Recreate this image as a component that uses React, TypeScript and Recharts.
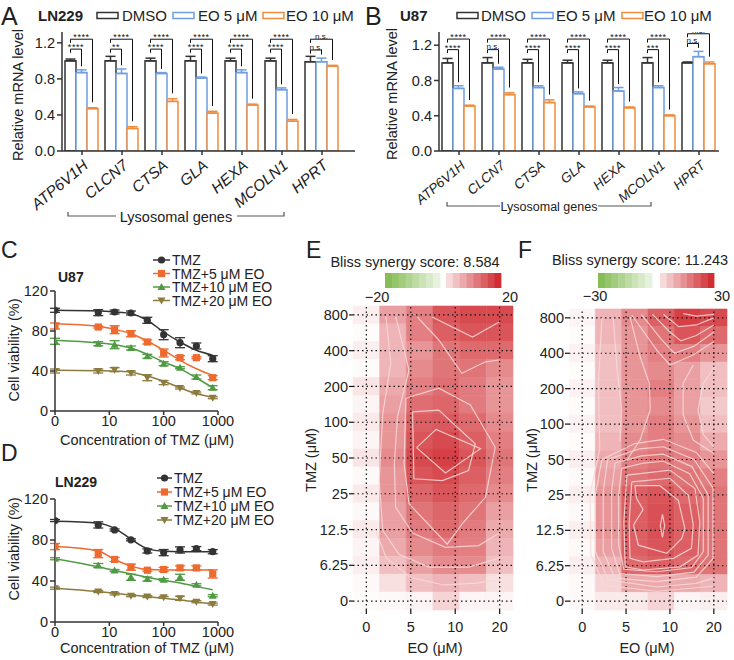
import React from "react";
import {
  BarChart,
  Bar,
  XAxis,
  YAxis,
  ErrorBar,
  ReferenceLine,
  ReferenceArea,
  ComposedChart,
  Line,
  ScatterChart,
  Scatter,
} from "recharts";

const FONT = "'Liberation Sans', Arial, Helvetica, sans-serif";
const INK = "#333333";
const BLUE = "#6f9ee3";
const ORANGE = "#f08c3f";

// ---------- A / B : lysosomal gene qPCR ----------
const genes = ["ATP6V1H", "CLCN7", "CTSA", "GLA", "HEXA", "MCOLN1", "HPRT"];

const ln229Dmso = [1.0, 1.0, 1.0, 1.0, 1.0, 1.0, 0.99];
const ln229DmsoErr = [0.02, 0.05, 0.03, 0.05, 0.03, 0.03, 0.06];
const ln229Eo5 = [0.87, 0.86, 0.86, 0.81, 0.87, 0.68, 0.99];
const ln229Eo5Err = [0.03, 0.05, 0.01, 0.01, 0.03, 0.02, 0.04];
const ln229Eo10 = [0.47, 0.25, 0.55, 0.42, 0.51, 0.33, 0.94];
const ln229Eo10Err = [0.01, 0.02, 0.03, 0.02, 0.01, 0.02, 0.01];
const ln229SigEo10 = ["****", "****", "****", "****", "****", "****", "n.s."];
const ln229SigEo5 = ["****", "**", "****", "****", "****", "****", "n.s."];
const ln229BracketEo10 = [1.24, 1.24, 1.24, 1.24, 1.24, 1.24, 1.24];
const ln229BracketEo5 = [1.13, 1.13, 1.13, 1.13, 1.13, 1.13, 1.12];

const u87Dmso = [1.0, 1.0, 1.0, 1.0, 1.0, 1.0, 1.0];
const u87DmsoErr = [0.05, 0.06, 0.04, 0.03, 0.03, 0.06, 0.01];
const u87Eo5 = [0.71, 0.93, 0.72, 0.65, 0.68, 0.72, 1.07];
const u87Eo5Err = [0.03, 0.02, 0.02, 0.02, 0.04, 0.02, 0.06];
const u87Eo10 = [0.51, 0.64, 0.55, 0.5, 0.49, 0.4, 0.99];
const u87Eo10Err = [0.01, 0.02, 0.03, 0.01, 0.01, 0.01, 0.02];
const u87SigEo10 = ["****", "****", "****", "****", "****", "****", "n.s."];
const u87SigEo5 = ["****", "n.s.", "****", "****", "****", "***", "n.s."];
const u87BracketEo10 = [1.27, 1.27, 1.27, 1.27, 1.27, 1.27, 1.33];
const u87BracketEo5 = [1.15, 1.15, 1.15, 1.15, 1.15, 1.15, 1.22];

// ---------- C / D : viability ----------
const tmzConc = [0, 6.25, 12.5, 25, 50, 100, 200, 400, 800];
const viabilityNames = ["TMZ", "TMZ+5 μM EO", "TMZ+10 μM EO", "TMZ+20 μM EO"];
const viabilityColors = ["#333333", "#ee6a2e", "#4f9a42", "#8c7b3e"];
const viabilityMarkers = ["circle", "square", "up", "down"];

const u87Mean = [
  [100.7, 98.3, 99, 98, 90.7, 76.3, 68.3, 65, 52.3],
  [85, 84, 81.3, 77.3, 69, 58, 53.3, 53.3, 33.3],
  [69.7, 67.3, 66.3, 63, 54.7, 47.3, 43.3, 34, 23.3],
  [40, 40, 41.3, 38, 33.3, 28.3, 23, 18, 13.3],
];
const u87Err = [
  [2, 3, 2, 2, 3, 5, 5, 3, 3],
  [3, 1, 4, 3, 2, 4, 2, 1, 2],
  [3, 2, 4, 2, 2, 2, 1, 2, 2],
  [2, 2, 2, 2, 3, 2, 1, 1, 1],
];
const u87Fit = [
  [100.7, 100, 99, 97.3, 90.7, 79, 69, 60.7, 55.7],
  [87.3, 84.7, 81.7, 77.3, 70, 60.7, 50.7, 42.3, 35.7],
  [70.7, 68, 66.3, 63, 56.7, 49, 42.3, 33, 23.3],
  [40.7, 40.3, 40, 38.7, 35, 29.7, 23.3, 17.3, 14],
];

const ln229Mean = [
  [99, 94.7, 89.8, 80.2, 69.3, 67.7, 70.3, 71.6, 68.6],
  [73.6, 66.7, 61, 53.5, 50.5, 51.2, 52.8, 52.8, 46.9],
  [61.7, 55.1, 50.2, 43.6, 41.9, 41.3, 43.6, 36.3, 25.7],
  [33, 29.7, 27.4, 25.7, 24.8, 24.1, 23.1, 19.8, 17.5],
];
const ln229Err = [
  [1, 3, 1, 1, 2, 3, 3, 2, 2],
  [3, 4, 2, 3, 1, 2, 2, 2, 4],
  [1, 2, 1, 3, 2, 1, 3, 1, 1],
  [1, 1, 1, 1, 1, 1, 2, 1, 1],
];
const ln229Fit = [
  [98.3, 96.4, 91.4, 80.9, 71.6, 69, 68.6, 68.6, 68.6],
  [73.6, 69.3, 61, 54.5, 51.2, 50.8, 50.8, 50.8, 50.8],
  [61.7, 53.8, 50.2, 46.9, 43.6, 40.6, 38, 34.7, 31.4],
  [33, 29.7, 28, 26.4, 24.8, 23.1, 21.5, 19.5, 17.5],
];

// ---------- E / F : Bliss synergy maps ----------
const eoLabels = ["0", "5", "10", "20"];
const tmzLabels = ["0", "6.25", "12.5", "25", "50", "100", "200", "400", "800"];

// rows from TMZ 800 (top) down to 0, six interpolated EO columns
const u87Bliss = [
  [1.6, 9, 12, 16, 17, 17],
  [0.4, 7, 12, 15, 16, 16],
  [1.6, 7, 10, 13, 14, 14],
  [0.4, 7, 11, 13, 13, 11],
  [2.4, 8, 12, 13.6, 12.4, 10],
  [1, 9, 13.6, 14.4, 12.4, 10],
  [2, 10, 15, 15.6, 14, 11],
  [1, 10, 16, 17, 15, 12],
  [2.4, 11, 17, 18, 16, 13],
  [0.6, 10, 16, 17, 15, 12],
  [2, 10, 14.4, 16, 14, 11],
  [0.6, 9, 13, 14.4, 13, 9],
  [2, 9, 12.4, 14, 12.4, 8],
  [1, 8, 11, 12.4, 12, 7],
  [1.6, 6, 9, 11, 11, 6],
  [0.6, 3, 6, 7, 6, 3],
  [0.4, 0.6, 1, 4, 1, 1],
];
const ln229Bliss = [
  [1.5, 10.5, 16.5, 22.5, 27, 25.5],
  [0.6, 10.5, 15, 19.5, 24, 21],
  [1.8, 9, 15, 18, 18, 15],
  [0.6, 9, 15, 16.5, 13.5, 9],
  [1.8, 9, 15, 18, 13.5, 9],
  [0.6, 9, 15, 16.5, 13.5, 7.5],
  [1.8, 9, 15, 18, 15, 9],
  [0.6, 10.5, 16.5, 18, 16.5, 12],
  [2.4, 12, 18, 19.5, 18, 15],
  [0.9, 13.5, 19.5, 21, 19.5, 18],
  [2.4, 15, 22.5, 24, 21, 19.5],
  [0.9, 15, 22.5, 24.6, 22.5, 19.5],
  [2.4, 15, 22.5, 24.6, 22.5, 19.5],
  [0.9, 13.5, 22.5, 24, 22.5, 19.5],
  [2.4, 10.5, 21, 22.5, 21, 19.5],
  [0.9, 6, 12, 12, 12, 10.5],
  [0.9, 3, 3, 6, 1.5, 2.4],
];

type Pt = [number, number];
const u87Contours: Pt[][] = [
  [[1.13, 4.29], [1.57, 4.8], [2.57, 4.26], [1.78, 3.58], [1.13, 4.29]],
  [[1.04, 5.29], [1.63, 5.34], [2.45, 4.4], [2.3, 3.65], [1.71, 3.37], [1.07, 3.42], [1.04, 5.29]],
  [[0.89, 5.67], [1.63, 5.95], [2.34, 5.48], [2.9, 4.3], [2.68, 2.9], [2.15, 2.15], [1.82, 1.59], [0.96, 2.72], [0.85, 3.84], [0.89, 5.67]],
  [[0.66, 7.96], [0.96, 6.46], [0.7, 5.15], [0.63, 3.84], [0.66, 2.62], [1.04, 1.9], [1.78, 1.5], [2.53, 1.55], [2.99, 1.9]],
  [[0.44, 7.96], [0.55, 6.65], [0.37, 5.24], [0.29, 3.37], [0.37, 1.97], [0.74, 1.3], [1.41, 0.95], [2.3, 0.95], [2.99, 1.2]],
  [[0.2, 2.0], [0.45, 1.2], [1.0, 0.66], [1.74, 0.45], [2.48, 0.5], [2.99, 0.6]],
  [[1.48, 7.94], [2.39, 7.38], [2.99, 7.8]],
  [[1.15, 7.94], [1.63, 7.3], [2.15, 6.37], [2.68, 6.69], [2.99, 6.74]],
];
const ln229Contours: Pt[][] = [
  [[1.83, 2.45], [1.88, 2.13], [1.83, 1.8], [1.78, 2.13], [1.83, 2.45]],
  [[1.2, 3.26], [1.77, 3.26], [2.19, 2.85], [2.34, 2.05], [2.27, 1.77], [1.93, 1.35], [1.28, 1.58], [1.17, 2.15], [1.39, 2.59], [1.24, 2.9], [1.2, 3.26]],
  [[1.13, 3.37], [2.0, 3.47], [2.42, 2.99], [2.53, 2.15], [2.49, 1.49], [2.08, 1.21], [1.39, 1.11], [1.09, 1.21], [1.07, 2.21], [1.13, 3.37]],
  [[1.02, 3.56], [2.0, 3.7], [2.57, 3.18], [2.68, 2.24], [2.64, 1.3], [2.23, 0.97], [1.39, 0.88], [0.98, 0.97], [0.95, 2.24], [1.02, 3.56]],
  [[0.9, 3.75], [1.4, 3.9], [1.85, 3.95], [2.45, 3.6], [2.76, 2.9], [2.76, 1.4], [2.5, 0.95], [1.7, 0.83], [0.95, 0.9], [0.83, 1.6], [0.83, 3.0], [0.9, 3.75]],
  [[0.75, 3.9], [1.35, 4.1], [1.85, 4.15], [2.5, 3.8], [2.87, 3.0], [2.87, 1.3], [2.55, 0.82], [1.7, 0.69], [0.85, 0.78], [0.67, 1.5], [0.67, 3.1], [0.75, 3.9]],
  [[0.58, 4.0], [1.3, 4.3], [1.85, 4.36], [2.55, 4.0], [2.98, 3.2], [2.98, 1.2], [2.6, 0.68], [1.7, 0.55], [0.75, 0.65], [0.48, 1.4], [0.48, 3.1], [0.58, 4.0]],
  [[3.0, 3.6], [2.6, 4.2], [1.85, 4.57], [1.2, 4.45], [0.45, 4.0], [0.3, 3.0], [0.3, 1.4], [0.6, 0.6], [1.7, 0.4], [2.6, 0.5], [3.0, 0.65]],
  [[0.45, 8.0], [0.37, 6.15], [0.4, 4.3], [0.18, 3.0], [0.2, 1.3], [0.5, 0.45], [1.7, 0.28], [3.0, 0.42]],
  [[0.71, 7.99], [0.79, 6.62], [0.9, 5.4], [0.86, 4.5]],
  [[1.09, 8.03], [1.32, 6.9], [1.53, 6.15], [1.55, 5.4], [1.32, 4.55], [1.02, 3.98]],
  [[3.02, 6.62], [2.76, 6.15], [2.64, 5.4], [2.76, 4.71], [3.02, 4.33]],
  [[2.53, 6.67], [2.3, 6.15], [2.3, 5.27], [2.53, 4.55], [3.0, 4.17]],
  [[1.13, 8.08], [1.7, 7.09], [2.0, 6.67], [2.53, 6.95], [3.0, 7.33]],
  [[1.35, 8.1], [1.8, 7.4], [2.1, 7.0], [2.55, 7.2], [3.0, 7.6]],
  [[1.6, 8.1], [2.0, 7.6], [2.25, 7.35], [2.6, 7.5], [3.0, 7.8]],
  [[1.85, 8.1], [2.2, 7.75], [2.6, 7.8], [3.0, 8.0]],
  [[2.3, 8.12], [2.6, 8.05], [3.0, 8.1]],
];

// ---------- helpers ----------
function mix(a: number[], b: number[], t: number) {
  const k = Math.max(0, Math.min(1, t));
  const c = a.map((v, i) => Math.round(v + (b[i] - v) * k));
  return `rgb(${c[0]},${c[1]},${c[2]})`;
}
const WHITE = [255, 255, 255];
const RED = [208, 42, 48];
const GREEN = [118, 180, 64];

function GeneTick(props: any) {
  const { x, y, payload, fs } = props;
  const ax = x + 7;
  const ay = y + 10;
  return (
    <text
      x={ax}
      y={ay}
      transform={`rotate(-40 ${ax} ${ay})`}
      textAnchor="end"
      fontSize={fs}
      fontStyle="italic"
      fontFamily={FONT}
      fill="#222"
    >
      {payload.value}
    </text>
  );
}

type GeneProps = {
  dmso: number[];
  dmsoErr: number[];
  eo5: number[];
  eo5Err: number[];
  eo10: number[];
  eo10Err: number[];
  sigEo10: string[];
  sigEo5: string[];
  hEo10: number[];
  hEo5: number[];
  yMax: number;
  width: number;
  yAxisWidth: number;
  marginRight: number;
  padRight: number;
  tickFont: number;
};

// bar outline plus, for the treated bars, the significance bracket back to the DMSO bar
function makeBarShape(color: string, key: "dmso" | "eo5" | "eo10", p: GeneProps) {
  return (props: any) => {
    const { x, y, width, height, index, payload } = props;
    const value = payload[key];
    const rect = <rect x={x} y={y} width={width} height={height} fill="#fff" stroke={color} strokeWidth={1.5} />;
    if (key === "dmso" || !value) return rect;
    const base = y + height;
    const ppu = height / value; // pixels per unit of the value axis
    const py = (v: number) => base - v * ppu;
    const steps = key === "eo10" ? 2 : 1;
    const xd = x + width / 2 - steps * width;
    const xc = x + width / 2;
    const h = key === "eo10" ? p.hEo10[index] : p.hEo5[index];
    const err = key === "eo10" ? p.eo10Err[index] : p.eo5Err[index];
    const gap = key === "eo10" ? 0.06 : 0.04;
    const sig = key === "eo10" ? p.sigEo10[index] : p.sigEo5[index];
    const stars = sig.startsWith("*");
    return (
      <g>
        {rect}
        <path
          d={`M${xd},${py(h - 0.04)} V${py(h)} H${xc} V${py(value + err + gap)}`}
          fill="none"
          stroke="#111"
          strokeWidth={1}
        />
        <text
          x={(xd + xc) / 2}
          y={stars ? py(h) + 1 : py(h) - 0.5}
          textAnchor="middle"
          fontSize={stars ? 9 : 8}
          letterSpacing={stars ? 0.6 : 0}
          fontFamily={FONT}
          fill="#111"
        >
          {sig}
        </text>
      </g>
    );
  };
}

function GenePanel(p: GeneProps) {
  const rows = genes.map((gene, i) => ({
    gene,
    dmso: p.dmso[i],
    eo5: p.eo5[i],
    eo10: p.eo10[i],
    dmsoErr: [0, p.dmsoErr[i]],
    eo5Err: [0, p.eo5Err[i]],
    eo10Err: [0, p.eo10Err[i]],
  }));
  const axisStyle = { stroke: INK, strokeWidth: 1.5 };
  return (
    <BarChart
      width={p.width}
      height={215}
      data={rows}
      margin={{ top: 32, right: p.marginRight, left: 0, bottom: 0 }}
      barCategoryGap={3}
      barGap={0}
    >
      <XAxis
        dataKey="gene"
        height={64}
        interval={0}
        tickSize={4}
        tickLine={axisStyle}
        axisLine={axisStyle}
        padding={{ left: 0, right: p.padRight }}
        tick={<GeneTick fs={p.tickFont} />}
      />
      <YAxis
        domain={[0, p.yMax]}
        ticks={[0, 0.2, 0.4, 0.6, 0.8, 1.0, 1.2]}
        tickFormatter={(v: number) => v.toFixed(1)}
        width={p.yAxisWidth}
        tickSize={5}
        tickLine={axisStyle}
        axisLine={axisStyle}
        allowDataOverflow
        tick={{ fill: "#222", fontSize: 14.5, fontFamily: FONT }}
      />
      <Bar dataKey="dmso" shape={makeBarShape(INK, "dmso", p)} isAnimationActive={false}>
        <ErrorBar dataKey="dmsoErr" width={5} stroke={INK} strokeWidth={1.5} />
      </Bar>
      <Bar dataKey="eo5" shape={makeBarShape(BLUE, "eo5", p)} isAnimationActive={false}>
        <ErrorBar dataKey="eo5Err" width={5} stroke={BLUE} strokeWidth={1.5} />
      </Bar>
      <Bar dataKey="eo10" shape={makeBarShape(ORANGE, "eo10", p)} isAnimationActive={false}>
        <ErrorBar dataKey="eo10Err" width={5} stroke={ORANGE} strokeWidth={1.5} />
      </Bar>
    </BarChart>
  );
}

function Marker({ kind, cx, cy, color }: { kind: string; cx: number; cy: number; color: string }) {
  if (kind === "circle") return <circle cx={cx} cy={cy} r={3.6} fill={color} />;
  if (kind === "square") return <rect x={cx - 3.6} y={cy - 3.6} width={7.2} height={7.2} fill={color} />;
  if (kind === "up")
    return <polygon points={`${cx},${cy - 4} ${cx + 4},${cy + 3} ${cx - 4},${cy + 3}`} fill={color} />;
  return <polygon points={`${cx},${cy + 4} ${cx + 4},${cy - 3} ${cx - 4},${cy - 3}`} fill={color} />;
}

function ViabilityPanel({ mean, err, fit, height, top }: { mean: number[][]; err: number[][]; fit: number[][]; height: number; top: number }) {
  const rows = tmzConc.map((c, i) => {
    const r: Record<string, number> = { x: c === 0 ? 1 : c };
    mean.forEach((s, k) => {
      r[`m${k}`] = s[i];
      r[`e${k}`] = err[k][i];
      r[`f${k}`] = fit[k][i];
    });
    return r;
  });
  const axisStyle = { stroke: INK, strokeWidth: 1.5 };
  const tick = { fill: "#222", fontSize: 14.5, fontFamily: FONT };
  return (
    <div style={{ position: "absolute", left: 0, top }}>
      <ComposedChart width={250} height={height} data={rows} margin={{ top: 11, right: 32, left: 10, bottom: 0 }}>
        <XAxis
          dataKey="x"
          type="number"
          scale="log"
          domain={[1, 1000]}
          ticks={[1, 10, 100, 1000]}
          allowDataOverflow
          tickFormatter={(v: number) => (v === 1 ? "0" : String(v))}
          height={29}
          tickSize={4}
          tickMargin={1}
          tickLine={axisStyle}
          axisLine={axisStyle}
          tick={tick}
        />
        <YAxis
          domain={[0, 120]}
          ticks={[0, 20, 40, 60, 80, 100, 120]}
          width={45}
          tickSize={5}
          tickLine={axisStyle}
          axisLine={axisStyle}
          tick={tick}
        />
        {mean.map((_, k) => (
          <Line
            key={`f${k}`}
            dataKey={`f${k}`}
            type="monotone"
            stroke={viabilityColors[k]}
            strokeWidth={1.5}
            dot={false}
            isAnimationActive={false}
          />
        ))}
        {mean.map((_, k) => (
          <Line
            key={`m${k}`}
            dataKey={`m${k}`}
            stroke="none"
            isAnimationActive={false}
            dot={(d: any) => (
              <Marker key={`d${k}-${d.index}`} kind={viabilityMarkers[k]} cx={d.cx} cy={d.cy} color={viabilityColors[k]} />
            )}
          >
            <ErrorBar dataKey={`e${k}`} width={5} stroke={viabilityColors[k]} strokeWidth={1.3} direction="y" />
          </Line>
        ))}
      </ComposedChart>
    </div>
  );
}

function SynergyPanel({
  left,
  top,
  width,
  height,
  yAxisWidth,
  marginRight,
  scores,
  max,
  contours,
}: {
  left: number;
  top: number;
  width: number;
  height: number;
  yAxisWidth: number;
  marginRight: number;
  scores: number[][];
  max: number;
  contours: Pt[][];
}) {
  const cells: { x1: number; x2: number; y1: number; y2: number; fill: string }[] = [];
  scores.forEach((row, r) => {
    const yc = 8 - r * 0.5;
    row.forEach((v, c) => {
      const xc = c * 0.6;
      cells.push({ x1: xc - 0.3, x2: xc + 0.3, y1: yc - 0.25, y2: yc + 0.25, fill: mix(WHITE, RED, v / max) });
    });
  });
  const tick = { fill: "#222", fontSize: 14.5, fontFamily: FONT };
  return (
    <div style={{ position: "absolute", left, top }}>
      <ScatterChart width={width} height={height} margin={{ top: 10, right: marginRight, left: 0, bottom: 0 }}>
        <XAxis
          dataKey="x"
          type="number"
          domain={[-0.3, 3.3]}
          ticks={[0, 1, 2, 3]}
          tickFormatter={(v: number) => eoLabels[v]}
          allowDataOverflow
          height={30}
          axisLine={false}
          tickSize={4}
          tickMargin={8}
          tickLine={{ stroke: "#111", strokeWidth: 1.2 }}
          tick={tick}
        />
        <YAxis
          dataKey="y"
          type="number"
          domain={[-0.25, 8.25]}
          ticks={[0, 1, 2, 3, 4, 5, 6, 7, 8]}
          tickFormatter={(v: number) => tmzLabels[v]}
          allowDataOverflow
          width={yAxisWidth}
          axisLine={false}
          tickSize={4}
          tickMargin={1}
          tickLine={{ stroke: "#111", strokeWidth: 1.2 }}
          tick={tick}
        />
        {cells.map((c, k) => (
          <ReferenceArea
            key={`c${k}`}
            x1={c.x1}
            x2={c.x2}
            y1={c.y1}
            y2={c.y2}
            fill={c.fill}
            fillOpacity={1}
            stroke={c.fill}
            strokeWidth={0.6}
            ifOverflow="visible"
          />
        ))}
        {[0, 1, 2, 3].map((v) => (
          <ReferenceLine key={`vx${v}`} x={v} stroke="#111" strokeWidth={1.2} strokeDasharray="1.5 3" />
        ))}
        {[0, 1, 2, 3, 4, 5, 6, 7, 8].map((v) => (
          <ReferenceLine key={`hy${v}`} y={v} stroke="#111" strokeWidth={1.2} strokeDasharray="1.5 3" />
        ))}
        {contours.map((pts, k) => (
          <Scatter
            key={`ct${k}`}
            data={pts.map(([x, y]) => ({ x, y }))}
            line={{ stroke: "#f7d9d9", strokeWidth: 1.2, strokeOpacity: 0.85 }}
            lineType="joint"
            shape={() => <g />}
            isAnimationActive={false}
          />
        ))}
      </ScatterChart>
    </div>
  );
}

function Txt({ x, y, size = 14.5, bold, anchor = "start", children, rotate, italic, fill = "#222" }: any) {
  return (
    <text
      x={x}
      y={y}
      fontSize={size}
      fontWeight={bold ? "bold" : "normal"}
      fontStyle={italic ? "italic" : "normal"}
      textAnchor={anchor}
      fontFamily={FONT}
      fill={fill}
      transform={rotate ? `rotate(${rotate} ${x} ${y})` : undefined}
    >
      {children}
    </text>
  );
}

function ColorBar({ x0, x1, x2, x3, y }: { x0: number; x1: number; x2: number; x3: number; y: number }) {
  const n = 8;
  const gw = (x1 - x0) / n;
  const rw = (x3 - x2) / n;
  return (
    <g>
      {Array.from({ length: n }, (_, i) => (
        <rect key={`g${i}`} x={x0 + i * gw} y={y} width={gw + 0.4} height={15} fill={mix(GREEN, WHITE, 0.12 + (i / (n - 1)) * 0.7)} />
      ))}
      {Array.from({ length: n }, (_, i) => (
        <rect key={`r${i}`} x={x2 + i * rw} y={y} width={rw + 0.4} height={15} fill={mix(WHITE, RED, 0.18 + (i / (n - 1)) * 0.8)} />
      ))}
    </g>
  );
}

function BoxKey({ x, y, color }: { x: number; y: number; color: string }) {
  return <rect x={x} y={y} width={21} height={6} fill="#fff" stroke={color} strokeWidth={1.5} />;
}

function LineKey({ x, y, k, w }: { x: number; y: number; k: number; w: number }) {
  return (
    <g>
      <line x1={x} y1={y} x2={x + w} y2={y} stroke={viabilityColors[k]} strokeWidth={1.5} />
      <Marker kind={viabilityMarkers[k]} cx={x + w / 2} cy={y} color={viabilityColors[k]} />
    </g>
  );
}

function Overlay() {
  const cRows = [260, 273.5, 287, 300.5];
  const dRows = [478, 492, 506, 520];
  return (
    <svg width={734} height={660} style={{ position: "absolute", left: 0, top: 0, pointerEvents: "none" }}>
      {/* panel letters */}
      <Txt x={1} y={25} size={25}>A</Txt>
      <Txt x={365} y={25} size={25}>B</Txt>
      <Txt x={1} y={258} size={23}>C</Txt>
      <Txt x={1} y={461} size={23}>D</Txt>
      <Txt x={306} y={258} size={23}>E</Txt>
      <Txt x={518} y={258} size={23}>F</Txt>

      {/* A legend */}
      <Txt x={38} y={21} size={15} bold>LN229</Txt>
      <BoxKey x={97} y={12.5} color={INK} />
      <Txt x={122} y={21} size={15}>DMSO</Txt>
      <BoxKey x={173} y={12.5} color={BLUE} />
      <Txt x={198} y={21} size={15}>EO 5 μM</Txt>
      <BoxKey x={263} y={12.5} color={ORANGE} />
      <Txt x={286} y={21} size={15}>EO 10 μM</Txt>

      {/* B legend */}
      <Txt x={400} y={21} size={15} bold>U87</Txt>
      <BoxKey x={457} y={12.5} color={INK} />
      <Txt x={481} y={21} size={15}>DMSO</Txt>
      <BoxKey x={532} y={12.5} color={BLUE} />
      <Txt x={556} y={21} size={15}>EO 5 μM</Txt>
      <BoxKey x={622} y={12.5} color={ORANGE} />
      <Txt x={644} y={21} size={15}>EO 10 μM</Txt>

      {/* y titles A/B */}
      <Txt x={23} y={95} anchor="middle" rotate={-90}>Relative mRNA level</Txt>
      <Txt x={397} y={94} anchor="middle" rotate={-90}>Relative mRNA level</Txt>

      {/* lysosomal brackets */}
      <path d="M68,212 V216 H116 M237,216 H284 V212" fill="none" stroke="#555" strokeWidth={1.2} />
      <Txt x={176} y={222} anchor="middle">Lysosomal genes</Txt>
      <path d="M447,202 V206 H500 M598,206 H651 V202" fill="none" stroke="#555" strokeWidth={1.2} />
      <Txt x={549} y={210.5} anchor="middle" size={12.5}>Lysosomal genes</Txt>

      {/* C / D titles and legends */}
      <Txt x={58} y={282} size={14} bold>U87</Txt>
      <Txt x={55} y={487} size={14} bold>LN229</Txt>
      {viabilityNames.map((n, k) => (
        <g key={`cl${k}`}>
          <LineKey x={153} y={cRows[k]} k={k} w={17} />
          <Txt x={172} y={cRows[k] + 5} size={14}>{n}</Txt>
          <LineKey x={157} y={dRows[k]} k={k} w={15} />
          <Txt x={174} y={dRows[k] + 5} size={14}>{n}</Txt>
        </g>
      ))}
      <Txt x={19} y={350} anchor="middle" rotate={-90}>Cell viability (%)</Txt>
      <Txt x={19} y={549} anchor="middle" rotate={-90}>Cell viability (%)</Txt>
      <Txt x={147} y={445} anchor="middle">Concentration of TMZ (μM)</Txt>
      <Txt x={147} y={653} anchor="middle">Concentration of TMZ (μM)</Txt>

      {/* E / F colour bars */}
      <Txt x={415} y={267} anchor="middle">Bliss synergy score: 8.584</Txt>
      <ColorBar x0={385} x1={440} x2={446} x3={501} y={273} />
      <Txt x={377} y={302} anchor="middle">−20</Txt>
      <Txt x={510} y={302} anchor="middle">20</Txt>
      <Txt x={640} y={265} anchor="middle">Bliss synergy score: 11.243</Txt>
      <ColorBar x0={598} x1={652} x2={660} x3={714} y={273} />
      <Txt x={595} y={301} anchor="middle">−30</Txt>
      <Txt x={722} y={301} anchor="middle">30</Txt>

      <Txt x={316} y={460} anchor="middle" rotate={-90}>TMZ (μM)</Txt>
      <Txt x={537} y={460} anchor="middle" rotate={-90}>TMZ (μM)</Txt>
      <Txt x={435} y={653} anchor="middle">EO (μM)</Txt>
      <Txt x={647} y={653} anchor="middle">EO (μM)</Txt>
    </svg>
  );
}

export default function App() {
  return (
    <div style={{ position: "absolute", left: 0, top: 0, width: 734, height: 660, background: "#fff", fontFamily: FONT }}>
      <div style={{ position: "absolute", left: 0, top: 0 }}>
        <GenePanel
          dmso={ln229Dmso}
          dmsoErr={ln229DmsoErr}
          eo5={ln229Eo5}
          eo5Err={ln229Eo5Err}
          eo10={ln229Eo10}
          eo10Err={ln229Eo10Err}
          sigEo10={ln229SigEo10}
          sigEo5={ln229SigEo5}
          hEo10={ln229BracketEo10}
          hEo5={ln229BracketEo5}
          yMax={1.32}
          width={365}
          yAxisWidth={62}
          marginRight={10}
          padRight={13}
          tickFont={15.5}
        />
      </div>
      <div style={{ position: "absolute", left: 364, top: 0 }}>
        <GenePanel
          dmso={u87Dmso}
          dmsoErr={u87DmsoErr}
          eo5={u87Eo5}
          eo5Err={u87Eo5Err}
          eo10={u87Eo10}
          eo10Err={u87Eo10Err}
          sigEo10={u87SigEo10}
          sigEo5={u87SigEo5}
          hEo10={u87BracketEo10}
          hEo5={u87BracketEo5}
          yMax={1.35}
          width={370}
          yAxisWidth={75}
          marginRight={15}
          padRight={0}
          tickFont={13.5}
        />
      </div>
      <ViabilityPanel mean={u87Mean} err={u87Err} fit={u87Fit} top={280} height={160} />
      <ViabilityPanel mean={ln229Mean} err={ln229Err} fit={ln229Fit} top={488} height={163} />
      <SynergyPanel left={300} top={296} width={230} height={344} yAxisWidth={53} marginRight={17} scores={u87Bliss} max={20} contours={u87Contours} />
      <SynergyPanel left={515} top={299} width={219} height={341} yAxisWidth={54} marginRight={7} scores={ln229Bliss} max={30} contours={ln229Contours} />
      <Overlay />
    </div>
  );
}
